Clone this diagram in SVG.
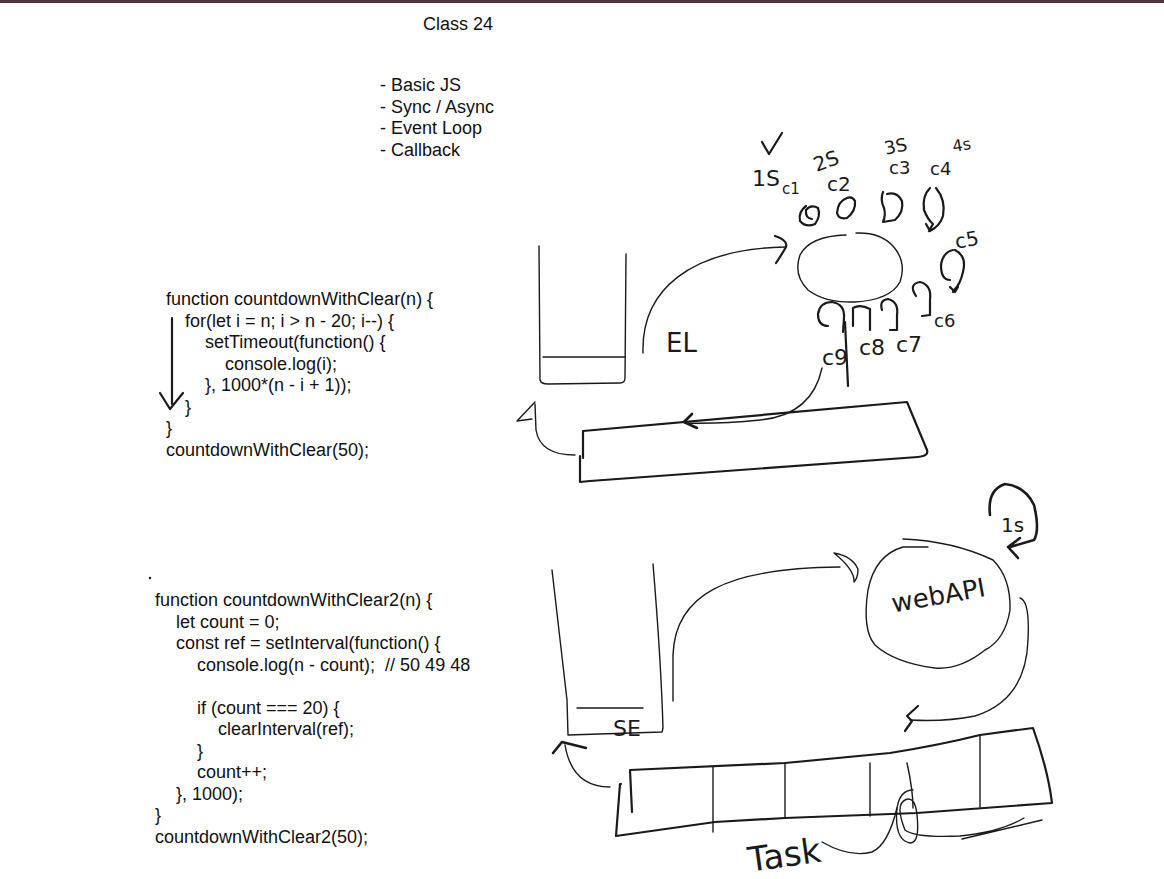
<svg xmlns="http://www.w3.org/2000/svg" width="1164" height="879" viewBox="0 0 1164 879">
<style>
.t{font-family:"Liberation Sans",Arial,sans-serif;font-size:18px;fill:#111}
.h{font-family:"DejaVu Sans","Liberation Sans",sans-serif;fill:#1a1a1a}
.s{fill:none;stroke:#1a1a1a;stroke-width:2.2;stroke-linecap:round;stroke-linejoin:round}
.n{fill:none;stroke:#1a1a1a;stroke-width:1.4;stroke-linecap:round;stroke-linejoin:round}
.b{fill:none;stroke:#1a1a1a;stroke-width:2.6;stroke-linecap:round;stroke-linejoin:round}
</style>
<rect x="0" y="0" width="1164" height="879" fill="#ffffff"/>
<rect x="0" y="0" width="1164" height="3" fill="#4a3b3f"/>

<g id="title">
<text class="t" x="423" y="30">Class 24</text>
<text class="t" x="380" y="91">- Basic JS</text>
<text class="t" x="380" y="113">- Sync / Async</text>
<text class="t" x="380" y="134">- Event Loop</text>
<text class="t" x="380" y="156">- Callback</text>
</g>

<g id="code1">
<text class="t" x="166" y="305">function countdownWithClear(n) {</text>
<text class="t" x="185" y="327">for(let i = n; i &gt; n - 20; i--) {</text>
<text class="t" x="205" y="348">setTimeout(function() {</text>
<text class="t" x="225" y="370">console.log(i);</text>
<text class="t" x="205" y="391">}, 1000*(n - i + 1));</text>
<text class="t" x="185" y="413">}</text>
<text class="t" x="166" y="434">}</text>
<text class="t" x="166" y="456">countdownWithClear(50);</text>
<path class="s" d="M172,318 L172,404 M160,393 L170,409 L183,393"/>
</g>

<g id="code2">
<circle cx="150" cy="578" r="1.2" fill="#111"/>
<text class="t" x="155" y="606">function countdownWithClear2(n) {</text>
<text class="t" x="176" y="628">let count = 0;</text>
<text class="t" x="176" y="649">const ref = setInterval(function() {</text>
<text class="t" x="197" y="671">console.log(n - count);&#160;&#160;// 50 49 48</text>
<text class="t" x="197" y="714">if (count === 20) {</text>
<text class="t" x="218" y="735">clearInterval(ref);</text>
<text class="t" x="197" y="757">}</text>
<text class="t" x="197" y="778">count++;</text>
<text class="t" x="176" y="800">}, 1000);</text>
<text class="t" x="155" y="821">}</text>
<text class="t" x="155" y="843">countdownWithClear2(50);</text>
</g>

<g id="stack1">
<path class="n" d="M539,246 L540,380 Q541,384 548,384 L620,383 Q625,383 625,378 L626,254"/>
<path class="n" d="M543,357 L625,357"/>
<text class="h" x="666" y="352" font-size="26">EL</text>
</g>

<g id="eventloop">
<path class="n" d="M846,235 Q810,236 800,255 Q793,275 808,290 Q825,303 855,302 Q890,300 900,282 Q907,262 893,246 Q880,232 856,233"/>
<path class="s" d="M806,206 Q798,212 800,221 Q806,228 815,224 Q821,216 818,208 Q811,204 806,210 Q805,218 812,219"/>
<path class="s" d="M847,198 Q838,201 837,213 Q839,220 847,218 Q856,211 855,201 Q852,196 847,198"/>
<path class="s" d="M883,192 Q880,200 884,208 Q886,215 883,222 L895,220 Q904,212 902,201 Q897,191 887,194"/>
<path class="s" d="M930,188 Q922,196 924,210 Q928,220 933,224 L929,231 M936,188 Q946,200 943,216 Q940,226 930,231 L926,224"/>
<path class="s" d="M762,142 L769,154 L782,133"/>
<text class="h" x="752" y="186" font-size="22">1S</text>
<text class="h" x="782" y="194" font-size="15">c1</text>
<text class="h" x="813" y="168" font-size="20" transform="rotate(-20 826 160)">2S</text>
<text class="h" x="827" y="191" font-size="20">c2</text>
<text class="h" x="884" y="152" font-size="18" transform="rotate(-12 898 145)">3S</text>
<text class="h" x="889" y="174" font-size="18">c3</text>
<text class="h" x="952" y="150" font-size="16" transform="rotate(-10 964 143)">4s</text>
<text class="h" x="930" y="175" font-size="18">c4</text>
<path class="s" d="M953,250 Q943,252 941,265 Q941,280 950,280 M955,250 Q967,256 963,272 Q960,285 954,290 L953,292 M950,287 L955,292 L958,287"/>
<text class="h" x="955" y="247" font-size="20" transform="rotate(-10 965 240)">c5</text>
<text class="h" x="934" y="327" font-size="18">c6</text>
<path class="s" d="M828,326 Q818,326 818,314 Q820,302 832,302 Q845,304 844,318 L843,332"/>
<path class="s" d="M853,326 L853,308 Q860,304 870,309 L870,330"/>
<path class="s" d="M882,310 Q879,300 888,299 Q899,302 897,315 L897,330 L890,330"/>
<path class="s" d="M916,296 Q908,284 920,282 Q932,285 930,300 L930,315 L922,316"/>
<path class="s" d="M845,322 L848,386"/>
<text class="h" x="822" y="365" font-size="22">c9</text>
<text class="h" x="859" y="355" font-size="22">c8</text>
<text class="h" x="896" y="352" font-size="22">c7</text>
</g>

<g id="queue1">
<path class="s" d="M583,432 L583,458 M583,431 L907,402 L927,450 Q929,456 918,457 L590,481 L580,482 L580,456"/>
</g>

<g id="stack2">
<path class="n" d="M552,570 Q560,640 567,700 L568,735 L662,732 L663,728 Q661,660 653,564"/>
<path class="n" d="M577,708 L643,708"/>
<text class="h" x="613" y="736" font-size="22">SE</text>
</g>

<g id="webapi">
<path class="n" d="M903,539 Q953,541 993,560 Q1011,578 1010,610 Q1005,640 985,650 Q960,670 935,668 Q895,663 875,645 Q862,630 868,590 Q875,555 903,547 L928,547"/>
<text class="h" x="890" y="604" font-size="26" transform="rotate(-10 940 590)">webAPI</text>
<path class="b" d="M990,515 Q987,490 1005,484 Q1025,486 1034,505 Q1040,530 1034,540 L1010,547 M1020,538 L1008,547 L1018,558"/>
<text class="h" x="1001" y="532" font-size="20">1s</text>
</g>

<g id="queue2">
<path class="s" d="M621,784 L620,784 L616,836 L715,822 L785,818 L917,813 L1052,803 Q1048,770 1033,728 L980,735 Q940,745 890,753 L785,763 L630,770 L632,812"/>
<path class="n" d="M713,767 L713,832 M785,763 L785,818 M870,763 L870,816 M980,735 L980,807"/>
<path class="n" d="M907,763 Q913,790 913,808 M913,790 Q900,790 897,808 Q894,840 910,843 Q920,843 917,815 Q915,795 905,800 Q895,805 905,830 Q915,838 960,836 Q1000,832 1024,818 M962,839 L1042,820"/>
<text class="h" x="747" y="866" font-size="34" transform="rotate(-8 790 850)">Task</text>
<path class="n" d="M822,842 Q850,858 872,852 Q888,845 897,808"/>
</g>

<g id="connectors">
<path class="n" d="M643,353 C641,290 690,249 785,247"/>
<path class="s" d="M775,236 Q788,240 786,247 Q782,254 776,263"/>
<path class="n" d="M822,368 Q812,415 760,420 Q720,424 685,423"/>
<path class="b" d="M692,414 L684,422 L697,428"/>
<path class="n" d="M575,455 Q540,455 536,430 L535,404"/>
<path class="n" d="M535,402 L517,421 L532,419"/>
<path class="n" d="M673,701 L673,655 C675,595 725,568 840,567"/>
<path class="n" d="M834,553 Q852,556 858,569 Q858,578 854,582 Q855,570 834,553"/>
<path class="n" d="M1020,598 Q1030,601 1028,640 Q1026,700 975,716 Q945,722 910,720"/>
<path class="s" d="M918,706 L907,716 L912,721 L905,731"/>
<path class="n" d="M610,787 Q572,787 565,745"/>
<path class="b" d="M553,753 L562,742 L586,748"/>
</g>
</svg>
